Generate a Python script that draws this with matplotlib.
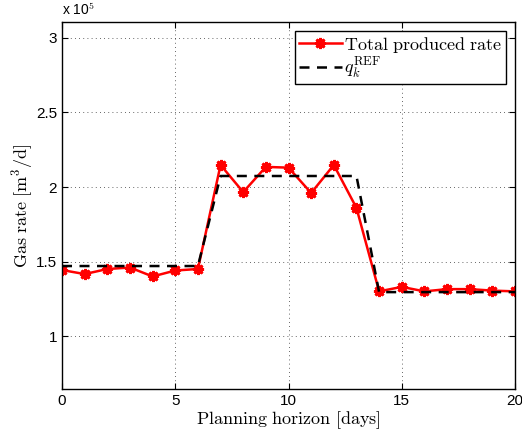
import numpy as np
import matplotlib
matplotlib.use("Agg")
import matplotlib.pyplot as plt
from matplotlib.ticker import FuncFormatter

plt.rcParams['mathtext.fontset'] = 'cm'
plt.rcParams['font.family'] = ['Liberation Sans', 'DejaVu Sans']

days = np.arange(0, 21)
produced = [1.443e5, 1.416e5, 1.45e5, 1.46e5, 1.40e5, 1.44e5, 1.45e5,
            2.148e5, 1.966e5, 2.135e5, 2.13e5, 1.96e5, 2.148e5, 1.86e5,
            1.30e5, 1.33e5, 1.30e5, 1.315e5, 1.315e5, 1.305e5, 1.30e5]
ref = [1.47e5] * 7 + [2.074e5] * 7 + [1.295e5] * 7

fig = plt.figure(figsize=(5.22, 4.36), dpi=100)
ax = fig.add_axes([0.1188, 0.1078, 0.8678, 0.8417])

ax.plot(days, produced, color='red', lw=1.8, marker=(8, 2, 0), ms=8, mew=2,
        mec='red', mfc='red', label=r'$\mathrm{Total\ produced\ rate}$')
ax.plot(days, ref, 'k--', lw=1.8, dashes=(4, 3), label=r'$q_k^{\mathrm{REF}}$')

ax.set_xlim(0, 20)
ax.set_ylim(0.645e5, 3.107e5)
ax.set_xticks([0, 5, 10, 15, 20])
ax.set_yticks([1e5, 1.5e5, 2e5, 2.5e5, 3e5])
ax.yaxis.set_major_formatter(FuncFormatter(lambda v, p: '%g' % (v / 1e5)))
ax.tick_params(direction='in', top=True, right=True, labelsize=11, length=4)
ax.grid(True, ls=(0, (1, 4)), color='k', lw=0.6, alpha=0.8)
for s in ax.spines.values():
    s.set_linewidth(1.0)

ax.set_xlabel(r'$\mathrm{Planning\ horizon\ [days]}$', fontsize=13, labelpad=1)
ax.set_ylabel(r'$\mathrm{Gas\ rate\ [m^3/d]}$', fontsize=13, labelpad=1)
ax.text(0.0, 1.01, r'x 10$^5$', transform=ax.transAxes, fontsize=10, va='bottom', ha='left')

leg = ax.legend(loc='upper right', fontsize=13, fancybox=False, edgecolor='k',
                framealpha=1, handlelength=2.4, handletextpad=0.1, borderpad=0.2,
                labelspacing=0.05, borderaxespad=0.5)
leg.get_frame().set_linewidth(1.0)

fig.savefig('out.png', dpi=100)
